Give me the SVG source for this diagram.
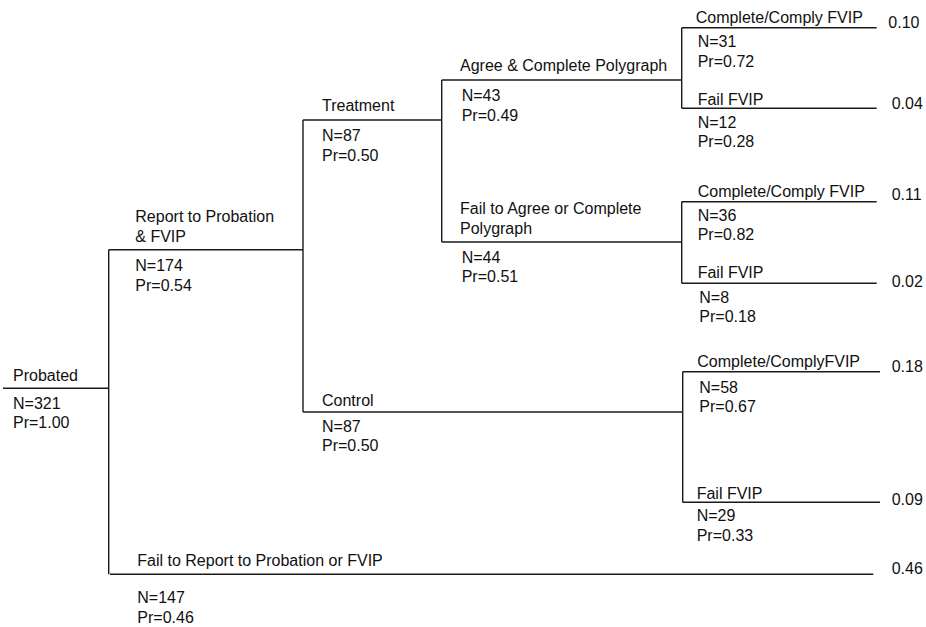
<svg xmlns="http://www.w3.org/2000/svg" width="926" height="627" viewBox="0 0 926 627">
<style>
text{font-family:"Liberation Sans",Arial,sans-serif;font-size:16px;fill:#111}
.br{stroke:#1a1a1a;stroke-width:1.4;fill:none}
</style>
<rect width="926" height="627" fill="#fff"/>
<g id="connectors" class="br">
<path d="M3,388.3H108.7"/>
<path d="M108.7,249.7V574.3"/>
<path d="M108.7,249.7H303"/>
<path d="M110,574.3H873.3"/>
<path d="M303,120V412"/>
<path d="M303,120H441.7"/>
<path d="M303,412H682.7"/>
<path d="M441.7,80V242"/>
<path d="M441.7,80H681.7"/>
<path d="M441.7,242H681.7"/>
<path d="M681.7,27.7V108.3"/>
<path d="M681.7,27.7H876.7"/>
<path d="M681.7,108.3H876.7"/>
<path d="M681.7,201.7V283.3"/>
<path d="M681.7,201.7H876.7"/>
<path d="M681.7,283.3H876.7"/>
<path d="M682.7,371.7V502.3"/>
<path d="M682.7,371.7H880"/>
<path d="M682.7,502.3H880"/>
</g>
<g id="probated">
<text x="13" y="380.5">Probated</text>
<text x="13" y="409">N=321</text>
<text x="13" y="428">Pr=1.00</text>
</g>
<g id="report">
<text x="135.3" y="222">Report to Probation</text>
<text x="135.3" y="242">&amp; FVIP</text>
<text x="135.3" y="271">N=174</text>
<text x="135.3" y="290.5">Pr=0.54</text>
</g>
<g id="fail-report">
<text x="137.3" y="565.5">Fail to Report to Probation or FVIP</text>
<text x="137.3" y="603">N=147</text>
<text x="137.3" y="622.5">Pr=0.46</text>
</g>
<g id="treatment">
<text x="322" y="111">Treatment</text>
<text x="322" y="141">N=87</text>
<text x="322" y="161">Pr=0.50</text>
</g>
<g id="control">
<text x="322" y="406">Control</text>
<text x="322" y="431.5">N=87</text>
<text x="322" y="451">Pr=0.50</text>
</g>
<g id="agree">
<text x="460" y="71">Agree &amp; Complete Polygraph</text>
<text x="461.7" y="101">N=43</text>
<text x="461.7" y="121">Pr=0.49</text>
</g>
<g id="fail-agree">
<text x="460" y="214.3">Fail to Agree or Complete</text>
<text x="460" y="234">Polygraph</text>
<text x="461.7" y="263">N=44</text>
<text x="461.7" y="282">Pr=0.51</text>
</g>
<g id="agree-complete">
<text x="695.7" y="23.3">Complete/Comply FVIP</text>
<text x="697.7" y="46.5">N=31</text>
<text x="697.7" y="66.5">Pr=0.72</text>
<text x="888.3" y="28.3">0.10</text>
</g>
<g id="agree-fail">
<text x="697.7" y="105">Fail FVIP</text>
<text x="697.7" y="128">N=12</text>
<text x="697.7" y="147">Pr=0.28</text>
<text x="891.7" y="109">0.04</text>
</g>
<g id="failagree-complete">
<text x="697.7" y="196.5">Complete/Comply FVIP</text>
<text x="697.7" y="221">N=36</text>
<text x="697.7" y="240">Pr=0.82</text>
<text x="891.7" y="200">0.11</text>
</g>
<g id="failagree-fail">
<text x="697.7" y="278.3">Fail FVIP</text>
<text x="699.3" y="302.5">N=8</text>
<text x="699.3" y="322">Pr=0.18</text>
<text x="891.7" y="287.3">0.02</text>
</g>
<g id="control-complete">
<text x="697.3" y="367.3">Complete/ComplyFVIP</text>
<text x="699.3" y="393.3">N=58</text>
<text x="699.3" y="412.3">Pr=0.67</text>
<text x="891.7" y="372.3">0.18</text>
</g>
<g id="control-fail">
<text x="696.7" y="499.3">Fail FVIP</text>
<text x="696.7" y="521">N=29</text>
<text x="696.7" y="541">Pr=0.33</text>
<text x="891.7" y="505.3">0.09</text>
</g>
<g id="fail-report-outcome">
<text x="891.7" y="574.3">0.46</text>
</g>
</svg>
